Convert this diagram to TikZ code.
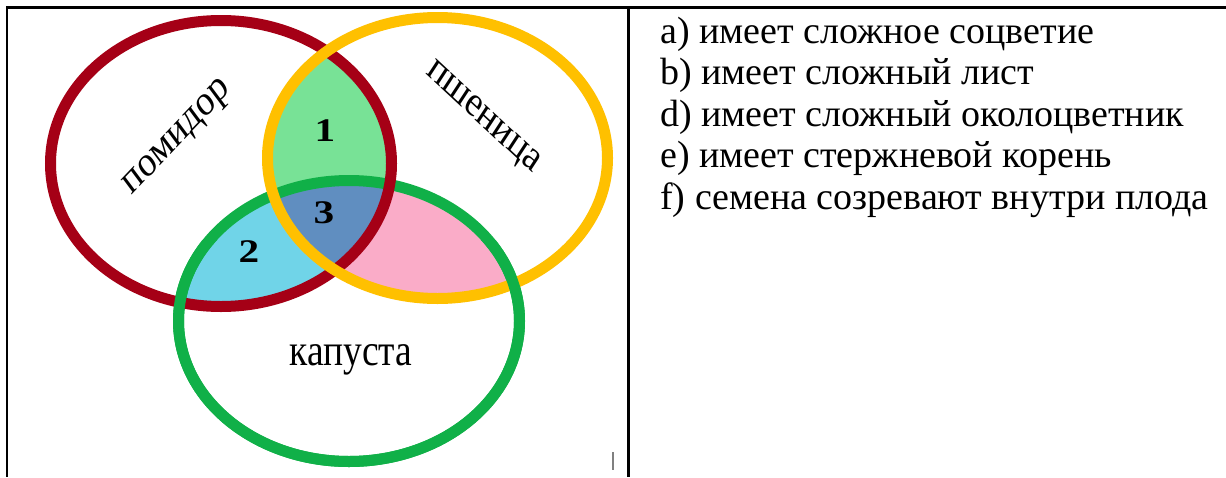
\documentclass[tikz,border=0pt]{standalone}
\usepackage{fontspec}
\setmainfont{Liberation Serif}
\definecolor{cred}{RGB}{165,0,22}
\definecolor{cyel}{RGB}{255,192,0}
\definecolor{cgrn}{RGB}{16,176,72}
\definecolor{fone}{RGB}{120,226,150}
\definecolor{ftwo}{RGB}{112,212,232}
\definecolor{fthree}{RGB}{96,142,192}
\definecolor{fpink}{RGB}{250,172,200}
\newcommand\vstretch[1]{\scalebox{1}[1.19]{#1}}
\newcommand\digitbox[1]{\scalebox{1.25}[1]{#1}}
\begin{document}
\begin{tikzpicture}[x=1pt,y=-1pt,
  vstroke/.style={line width=11pt},
  lbl/.style={inner sep=0pt, font=\fontsize{36pt}{40pt}\selectfont},
  numlbl/.style={inner sep=0pt, font=\fontsize{33pt}{35pt}\selectfont\bfseries, anchor=base},
  item/.style={inner sep=0pt, anchor=base west, font=\fontsize{38pt}{42pt}\selectfont},
  rule/.style={line width=2.5pt, black}]
\fill[white] (0,0) rectangle (1226,477);
\useasboundingbox (0,0) rectangle (1226,477);
% region fills
\begin{scope}
  \clip (437.5,158) ellipse [x radius=170pt, y radius=140.5pt];
  \fill[fpink] (349,321) ellipse [x radius=170.5pt, y radius=140.5pt];
\end{scope}
\begin{scope}
  \clip (221,163.5) ellipse [x radius=170.5pt, y radius=143pt];
  \fill[fone] (437.5,158) ellipse [x radius=170pt, y radius=140.5pt];
  \fill[ftwo] (349,321) ellipse [x radius=170.5pt, y radius=140.5pt];
  \clip (437.5,158) ellipse [x radius=170pt, y radius=140.5pt];
  \fill[fthree] (349,321) ellipse [x radius=170.5pt, y radius=140.5pt];
\end{scope}
% outlines
\draw[vstroke, cgrn] (349,321) ellipse [x radius=170.5pt, y radius=140.5pt];
\draw[vstroke, cred] (221,163.5) ellipse [x radius=170.5pt, y radius=143pt];
\draw[vstroke, cyel] (437.5,158) ellipse [x radius=170pt, y radius=140.5pt];
\begin{scope}
  \clip (0,240) rectangle (640,477);
  \draw[vstroke, cgrn] (349,321) ellipse [x radius=170.5pt, y radius=140.5pt];
\end{scope}
% labels
\begin{scope}[shift={(178.5,139)}, yscale=1.19]
  \node[lbl, transform shape, rotate=41.5] (pom) at (0,0) {помидор};
\end{scope}
\begin{scope}[shift={(482,118.5)}, yscale=1.19]
  \node[lbl, transform shape, rotate=-38] (psh) at (0,0) {пшеница};
\end{scope}
\node[lbl, anchor=base, font=\fontsize{37.5pt}{40pt}\selectfont] (kap) at (351,365) {\vstretch{капуста}};
\node[numlbl] (n1) at (325,141) {\digitbox{1}};
\node[numlbl] (n2) at (249,262) {\digitbox{2}};
\node[numlbl] (n3) at (324,223) {\digitbox{3}};
% table rules
\draw[rule] (6,7.5) -- (1226,7.5);
\draw[rule] (7,7.5) -- (7,477);
\draw[rule, line width=3pt] (628,7.5) -- (628,477);
\draw[gray, line width=1.5pt] (613,452) -- (613,470);
% list
\node[item] (la) at (660,43) {a) имеет сложное соцветие};
\node[item] (lb) at (660,84.5) {b) имеет сложный лист};
\node[item] (ld) at (660,126) {d) имеет сложный околоцветник};
\node[item] (le) at (660,167.5) {e) имеет стержневой корень};
\node[item] (lf) at (660,209) {f) семена созревают внутри плода};
\end{tikzpicture}
\end{document}
